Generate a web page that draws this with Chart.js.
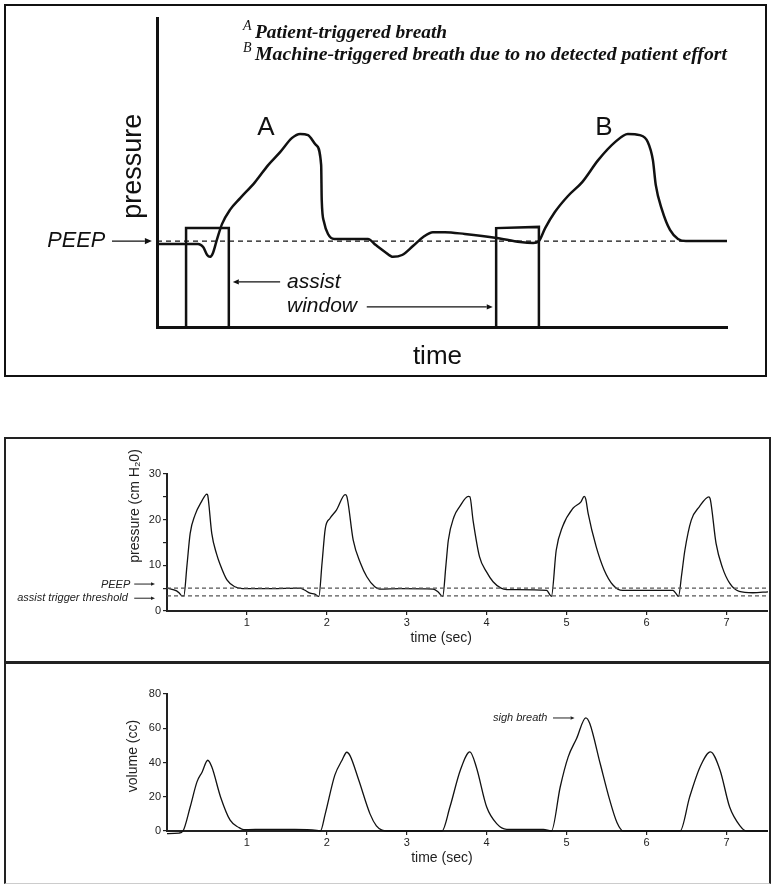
<!DOCTYPE html>
<html>
<head>
<meta charset="utf-8">
<script src="https://cdn.jsdelivr.net/npm/chart.js@4.4.1/dist/chart.umd.min.js"></script>
<style>
body { margin: 0; background: #fff; width: 771px; height: 884px; position: relative; overflow: hidden; }
.frame { position: absolute; box-sizing: border-box; }
canvas { position: absolute; }
</style>
</head>
<body>
<div class="frame" style="left:4px;top:4px;width:763px;height:373px;border:2px solid #111"></div>
<div class="frame" style="left:4px;top:437px;width:767px;height:447px;border:2px solid #222;border-bottom:1px solid #ccc"></div>
<div class="frame" style="left:4px;top:661px;width:767px;height:3px;background:#222"></div>
<canvas id="schematic" width="771" height="380" style="left:0;top:0"></canvas>
<canvas id="pressure" width="762" height="221" style="left:6px;top:440px"></canvas>
<canvas id="volume" width="762" height="218" style="left:6px;top:664px"></canvas>
<script>
// ---- schematic (arbitrary units, 0..100 on both axes) ----
const breathX = [0, 7.2, 8.1, 8.8, 9.3, 9.8, 10.5, 11.4, 12.8, 14.6, 17.2, 19.5, 21.6, 23.7, 25.1, 26.5, 27.9, 28.8, 28.9, 29.3, 30, 31.1, 32.5,
  37, 38.4, 40, 41.4, 43, 44.9, 46.7, 48.4, 50.5, 54, 59.6, 63.7, 66, 67, 68.1, 69.8, 72.1, 74.6, 77.4, 80.4, 82.6, 84.7, 86.1, 87, 87.5,
  88.6, 90, 91.4, 92.8, 100];
const breathY = [26.9, 26.9, 25.9, 23.3, 22.7, 23.9, 28.2, 33.3, 37.9, 41.7, 46.9, 52.4, 56.6, 61.2, 62.5, 62.1, 58.9, 52.4, 41.1, 34, 30.1, 28.5, 28.5,
  28.5, 26.5, 24.3, 22.7, 23.3, 26.2, 29.1, 30.7, 30.7, 30.1, 28.8, 27.5, 27.2, 27.8, 32, 37.2, 42.4, 46.9, 54, 59.9, 62.5, 62.1, 59.9, 54, 46,
  37.9, 31.4, 28.5, 27.8, 27.8];
const peepLevel = 27.8;
// assist windows: [start, end, top at start, top at end]
const assistWindows = [[5.1, 12.6, 32, 32], [59.5, 67, 32, 32.4]];

// ---- measured traces ----
const timeTicks = [1, 2, 3, 4, 5, 6, 7];
const pressureTicks = [0, 5, 10, 15, 20, 25, 30];
const volumeTicks = [0, 20, 40, 60, 80];
const pressureTime = [0, 0.12, 0.15, 0.19, 0.21, 0.25, 0.29, 0.35, 0.43, 0.5, 0.51, 0.56, 0.62, 0.66, 0.75, 0.85, 0.95, 1.3, 1.66, 1.72, 1.79, 1.85,
  1.9, 1.94, 1.98, 2.04, 2.12, 2.23, 2.25, 2.33, 2.42, 2.5, 2.6, 2.66, 2.92, 3.33, 3.39, 3.45, 3.49, 3.52, 3.59, 3.66, 3.77, 3.79, 3.83, 3.91,
  4.0, 4.08, 4.18, 4.25, 4.75, 4.81, 4.87, 4.95, 5.08, 5.18, 5.22, 5.24, 5.27, 5.37, 5.47, 5.58, 5.7, 6.33, 6.37, 6.4, 6.44, 6.48, 6.56, 6.66,
  6.78, 6.8, 6.87, 6.95, 7.04, 7.16, 7.33, 7.52];
const pressureCm = [5.0, 4.4, 4.0, 3.3, 3.3, 10, 17, 21, 23.9, 25.6, 25.3, 17, 12.5, 10.4, 6.8, 5.3, 4.9, 4.9, 5.0, 4.6, 3.9, 3.7,
  3.2, 10.5, 18, 20.3, 22.1, 25.5, 25.1, 15.5, 10.5, 7.5, 5.3, 4.8, 4.9, 4.8, 4.2, 3.2, 10, 15.5, 20.6, 22.8, 25.1, 25, 19.8, 11.9,
  8.5, 6.4, 5.0, 4.7, 4.5, 3.2, 13.3, 18.5, 22.5, 23.9, 25.1, 24.5, 21.3, 14.1, 9, 5.7, 4.5, 4.5, 3.8, 3.2, 8, 13.3, 19.9, 22.8,
  25, 24.3, 14.8, 9.5, 6.1, 4.3, 4.0, 4.2];
const peepCm = 5;
const triggerCm = 3.3;
const volumeTime = [0, 0.15, 0.2, 0.29, 0.375, 0.44, 0.51, 0.56, 0.67, 0.79, 0.9, 0.96, 1.25, 1.6, 1.875, 1.92, 1.98, 2.1, 2.19, 2.25, 2.29, 2.4,
  2.54, 2.62, 2.69, 2.75, 3.44, 3.54, 3.67, 3.79, 3.87, 4.0, 4.125, 4.25, 4.71, 4.81, 4.92, 5.02, 5.125, 5.24, 5.29, 5.42, 5.54, 5.63, 5.71,
  6.42, 6.54, 6.67, 6.8, 6.92, 7.04, 7.17, 7.25, 7.52];
const volumeCc = [-1.5, -1.2, 0, 14, 28.7, 34.5, 41.3, 37.5, 19.9, 6.3, 2, 0.8, 1, 1, 0.4, 0, 10, 32.6, 41.3, 46, 44, 29.6,
  10, 3, 0.5, 0, 0, 14, 35.5, 46.2, 37.4, 14, 4.3, 1, 1, 0, 25.7, 43.3, 54, 66.1, 62.8, 39.4, 18, 5, 0,
  0, 19.9, 37.4, 46.2, 35.5, 14, 3, 0, 0];

const SANS = '"Liberation Sans", Arial, sans-serif';
const SERIF = '"Liberation Serif", "Times New Roman", serif';
const pts = (xs, ys) => xs.map((x, i) => ({ x: x, y: ys[i] }));

function arrow(ctx, x1, y, x2, head, width, color) {
  const dir = Math.sign(x2 - x1);
  ctx.save();
  ctx.strokeStyle = color; ctx.fillStyle = color; ctx.lineWidth = width;
  ctx.beginPath(); ctx.moveTo(x1, y); ctx.lineTo(x2 - dir * head, y); ctx.stroke();
  ctx.beginPath(); ctx.moveTo(x2, y); ctx.lineTo(x2 - dir * head, y - head * 0.45); ctx.lineTo(x2 - dir * head, y + head * 0.45);
  ctx.closePath(); ctx.fill();
  ctx.restore();
}
function label(ctx, str, x, y, font, align, base, color, rot, fitW) {
  ctx.save();
  ctx.font = font; ctx.fillStyle = color; ctx.textAlign = align; ctx.textBaseline = base;
  ctx.translate(x, y);
  if (rot) ctx.rotate(rot);
  if (fitW) ctx.scale(fitW / ctx.measureText(str).width, 1);
  ctx.fillText(str, 0, 0);
  ctx.restore();
}
function notesPlugin(draw) {
  return { id: 'notes', afterDraw(chart) {
    const X = v => chart.scales.x.getPixelForValue(v);
    const Y = v => chart.scales.y.getPixelForValue(v);
    draw(chart.ctx, X, Y);
  } };
}

// ---------- schematic chart ----------
const windowSets = assistWindows.map(w => ({
  data: [{ x: w[0], y: 0 }, { x: w[0], y: w[2] }, { x: w[1], y: w[3] }, { x: w[1], y: 0 }],
  borderColor: '#111', borderWidth: 2.5, pointRadius: 0, tension: 0, fill: false
}));
new Chart(document.getElementById('schematic'), {
  type: 'line',
  data: { datasets: [
    { data: [{ x: 0, y: peepLevel }, { x: 100, y: peepLevel }], borderColor: '#111', borderWidth: 1.3, borderDash: [5, 4], pointRadius: 0 },
    ...windowSets,
    { data: pts(breathX, breathY), borderColor: '#111', borderWidth: 2.5, pointRadius: 0, cubicInterpolationMode: 'monotone' }
  ] },
  options: {
    responsive: false, animation: false, events: [],
    layout: { padding: { left: 157, top: 18, right: 44, bottom: 53 } },
    plugins: { legend: { display: false }, tooltip: { enabled: false } },
    scales: {
      x: { type: 'linear', min: 0, max: 100, ticks: { display: false }, grid: { display: false },
           border: { color: '#111', width: 3 }, afterFit(s) { s.height = 0; } },
      y: { type: 'linear', min: 0, max: 100, ticks: { display: false }, grid: { display: false },
           border: { color: '#111', width: 3 }, afterFit(s) { s.width = 0; } }
    }
  },
  plugins: [notesPlugin((ctx, X, Y) => {
    const c = '#111';
    label(ctx, 'pressure', X(-4.2), Y(52), '27px ' + SANS, 'center', 'middle', c, -Math.PI / 2);
    label(ctx, 'time', X(49.2), Y(-9.7), '26px ' + SANS, 'center', 'middle', c);
    label(ctx, 'A', X(19.1), Y(64.4), '26px ' + SANS, 'center', 'middle', c);
    label(ctx, 'B', X(78.4), Y(64.4), '26px ' + SANS, 'center', 'middle', c);
    label(ctx, 'A', X(15.1), Y(96.1), 'italic 14px ' + SERIF, 'left', 'alphabetic', c);
    label(ctx, 'B', X(15.1), Y(89.0), 'italic 14px ' + SERIF, 'left', 'alphabetic', c);
    label(ctx, 'Patient-triggered breath', X(17.2), Y(93.5), 'italic bold 19px ' + SERIF, 'left', 'alphabetic', c, 0, X(50.9) - X(17.2));
    label(ctx, 'Machine-triggered breath due to no detected patient effort', X(17.2), Y(86.4), 'italic bold 19px ' + SERIF, 'left', 'alphabetic', c, 0, X(100) - X(17.2));
    label(ctx, 'PEEP', X(-9.1), Y(peepLevel), 'italic 22px ' + SANS, 'right', 'middle', c, 0, 58);
    arrow(ctx, X(-7.9), Y(peepLevel), X(-0.9), 7, 1.2, c);
    label(ctx, 'assist', X(22.8), Y(12.6), 'italic 21px ' + SANS, 'left', 'alphabetic', c);
    label(ctx, 'window', X(22.8), Y(4.9), 'italic 21px ' + SANS, 'left', 'alphabetic', c);
    arrow(ctx, X(21.6), Y(14.6), X(13.3), 6, 1.2, c);
    arrow(ctx, X(36.8), Y(6.5), X(58.9), 6, 1.2, c);
  })]
});

// ---------- measured traces ----------
function traceAxes(yTicks, yMax, labelStep, xMax, xHeight) {
  const grid = { drawOnChartArea: false, drawTicks: true, tickLength: 4, color: '#222', lineWidth: 1.2 };
  const tickFont = { family: SANS, size: 11 };
  return {
    x: { type: 'linear', min: 0, max: xMax, grid: grid, border: { color: '#222', width: 2 },
         ticks: { color: '#222', font: tickFont, padding: 1, maxRotation: 0 },
         afterBuildTicks(s) { s.ticks = timeTicks.map(v => ({ value: v })); },
         afterFit(s) { s.height = xHeight; } },
    y: { type: 'linear', min: 0, max: yMax, grid: grid, border: { color: '#222', width: 2 },
         ticks: { color: '#222', font: tickFont, padding: 2, callback: v => (v % labelStep === 0 ? v : '') },
         afterBuildTicks(s) { s.ticks = yTicks.map(v => ({ value: v })); },
         afterFit(s) { s.width = 161; } }
  };
}
const traceStyle = { borderColor: '#111', borderWidth: 1.3, pointRadius: 0, cubicInterpolationMode: 'monotone' };
const dashStyle = { borderColor: '#555', borderWidth: 1.2, borderDash: [4, 3], pointRadius: 0 };

new Chart(document.getElementById('pressure'), {
  type: 'line',
  data: { datasets: [
    Object.assign({ data: [{ x: 0, y: peepCm }, { x: 7.52, y: peepCm }] }, dashStyle),
    Object.assign({ data: [{ x: 0, y: triggerCm }, { x: 7.52, y: triggerCm }] }, dashStyle),
    Object.assign({ data: pts(pressureTime, pressureCm) }, traceStyle)
  ] },
  options: {
    responsive: false, animation: false, events: [],
    layout: { padding: { left: 0, top: 34, right: 0, bottom: 0 } },
    plugins: { legend: { display: false }, tooltip: { enabled: false } },
    scales: traceAxes(pressureTicks, 30, 10, 7.52, 50)
  },
  plugins: [notesPlugin((ctx, X, Y) => {
    const c = '#222';
    label(ctx, 'pressure (cm H\u20820)', X(-0.4), Y(23), '14px ' + SANS, 'center', 'middle', c, -Math.PI / 2);
    label(ctx, 'time (sec)', X(3.43), Y(-5.9), '14px ' + SANS, 'center', 'middle', c);
    label(ctx, 'PEEP', X(-0.46), Y(5.7), 'italic 11px ' + SANS, 'right', 'middle', c);
    arrow(ctx, X(-0.41), Y(5.9), X(-0.15), 4, 1, c);
    label(ctx, 'assist trigger threshold', X(-0.49), Y(2.8), 'italic 11px ' + SANS, 'right', 'middle', c);
    arrow(ctx, X(-0.41), Y(2.8), X(-0.15), 4, 1, c);
  })]
});

new Chart(document.getElementById('volume'), {
  type: 'line',
  data: { datasets: [
    Object.assign({ data: pts(volumeTime, volumeCc), clip: 6 }, traceStyle)
  ] },
  options: {
    responsive: false, animation: false, events: [],
    layout: { padding: { left: 0, top: 30, right: 0, bottom: 0 } },
    plugins: { legend: { display: false }, tooltip: { enabled: false } },
    scales: traceAxes(volumeTicks, 80, 20, 7.52, 51)
  },
  plugins: [notesPlugin((ctx, X, Y) => {
    const c = '#222';
    label(ctx, 'volume (cc)', X(-0.425), Y(43.8), '14px ' + SANS, 'center', 'middle', c, -Math.PI / 2);
    label(ctx, 'time (sec)', X(3.44), Y(-15.8), '14px ' + SANS, 'center', 'middle', c);
    label(ctx, 'sigh breath', X(4.76), Y(66), 'italic 11px ' + SANS, 'right', 'middle', c);
    arrow(ctx, X(4.83), Y(66), X(5.1), 4, 1, c);
  })]
});
</script>
</body>
</html>
